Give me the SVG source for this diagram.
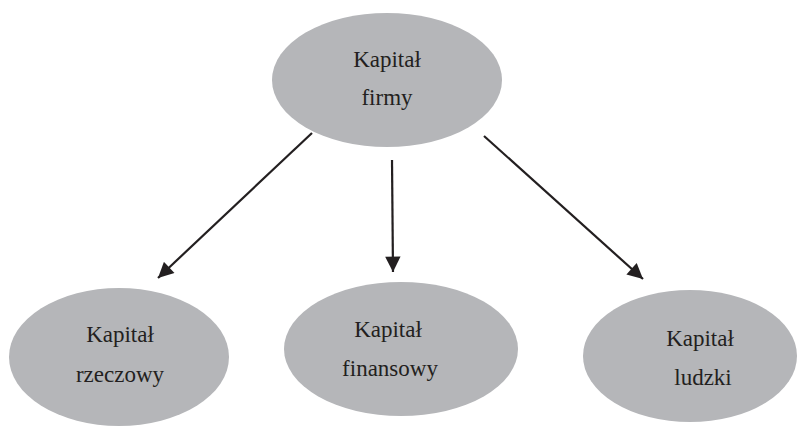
<svg xmlns="http://www.w3.org/2000/svg" width="797" height="427" viewBox="0 0 797 427">
<style>
.n{fill:#b5b6b9;stroke:none}
text{font-family:'Liberation Serif','Times New Roman',serif;font-size:23px;fill:#231f20;text-anchor:middle}
.c{stroke:#231f20;stroke-width:2.2;fill:none;marker-end:url(#a)}
</style>
<defs>
<marker id="a" viewBox="0 0 10 10" refX="10" refY="5" markerWidth="7.5" markerHeight="7" orient="auto" markerUnits="strokeWidth">
<path d="M0,0 L10,5 L0,10 z" fill="#231f20"/>
</marker>
</defs>
<rect width="797" height="427" fill="#fff"/>
<g id="n0"><ellipse class="n" cx="387" cy="80" rx="115" ry="67"/><text x="387" y="67">Kapitał</text><text x="387" y="105">firmy</text></g>
<g id="n1"><ellipse class="n" cx="119" cy="357" rx="110" ry="69"/><text x="120" y="342">Kapitał</text><text x="120" y="382">rzeczowy</text></g>
<g id="n2"><ellipse class="n" cx="401" cy="349" rx="117" ry="67"/><text x="388" y="337">Kapitał</text><text x="390" y="376">finansowy</text></g>
<g id="n3"><ellipse class="n" cx="690" cy="356" rx="107" ry="66"/><text x="700" y="346">Kapitał</text><text x="703" y="385">ludzki</text></g>
<g id="edges">
<path class="c" d="M312,133 L158,278"/>
<path class="c" d="M392,160 L393,272"/>
<path class="c" d="M484,136 L643,279"/>
</g>
</svg>
